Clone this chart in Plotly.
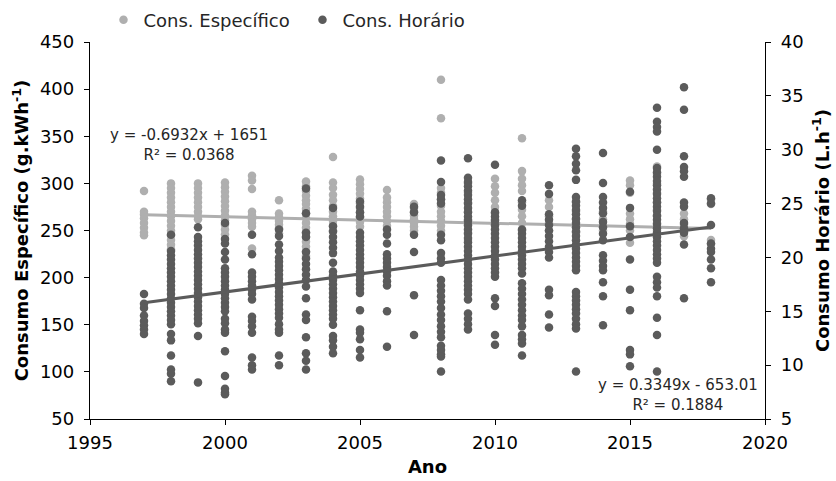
import plotly.graph_objects as go

# Years of the survey
anos = [1997, 1998, 1999, 2000, 2001, 2002, 2003, 2004, 2005, 2006, 2007,
        2008, 2009, 2010, 2011, 2012, 2013, 2014, 2015, 2016, 2017, 2018]

# Specific consumption (g.kWh-1), one list per year
cons_especifico = [
    [292, 270, 267, 263, 258, 253, 248, 245],
    [300, 295, 290, 285, 280, 275, 270, 265, 260, 255, 250, 245, 240, 235, 230],
    [300, 295, 290, 285, 280, 275, 270, 265, 262],
    [301, 296, 291, 286, 281, 276, 271, 266, 261, 256, 251, 246],
    [308, 303, 294, 270, 266, 262, 258, 254, 231],
    [282, 268, 264, 260, 256, 252, 247],
    [302, 297, 292, 287, 282, 278, 273, 268, 263, 258, 253, 248, 243, 238, 233, 228, 223],
    [328, 301, 295, 288, 282, 276, 270, 265, 260, 255, 250],
    [304, 299, 294, 289, 284, 279, 274, 269, 264, 259, 254],
    [293, 285, 280, 275, 270, 265, 260, 255],
    [278, 274, 270, 266, 262, 258, 254, 250],
    [410, 369, 295, 290, 283, 276, 270, 265, 260, 255, 250],
    [300, 290, 280, 270, 262, 255, 248, 240],
    [305, 297, 290, 282, 275, 268, 262, 255],
    [348, 313, 305, 298, 292, 280, 272, 265, 258, 250],
    [282, 275, 265, 258, 250],
    [280, 270, 262, 255, 248],
    [270, 262, 255, 250],
    [303, 298, 290, 268, 262, 257, 250, 243, 237],
    [318, 310, 300, 290, 280, 272, 265, 258, 250, 243],
    [268, 262, 256, 250, 244],
    [283, 278, 240, 236],
]

# Hourly consumption (L.h-1), one list per year
cons_horario = [
    [16.6, 15.7, 15.3, 14.6, 14.1, 13.7, 13.3, 12.9],
    [22.1, 20.6, 20.2, 19.8, 19.4, 19.0, 18.6, 18.2, 17.8, 17.4, 17.0, 16.6, 16.2,
     15.8, 15.4, 15.0, 14.6, 14.2, 13.8, 12.9, 12.3, 10.9, 9.6, 9.2, 8.5],
    [22.8, 21.9, 21.5, 21.1, 20.7, 20.3, 19.9, 19.5, 19.1, 18.7, 18.3, 17.9, 17.5,
     17.1, 16.7, 16.3, 15.9, 15.5, 15.1, 14.7, 14.3, 13.9, 12.7, 8.4],
    [23.2, 21.7, 21.3, 20.5, 19.8, 19.0, 18.6, 18.2, 17.8, 17.4, 17.0, 16.6, 16.2,
     15.8, 15.4, 15.0, 14.3, 13.9, 13.3, 13.0, 11.3, 9.0, 7.8, 7.45, 7.3],
    [22.1, 20.3, 18.6, 18.2, 17.8, 17.4, 17.0, 16.6, 16.1, 14.5, 14.1, 13.6, 13.0,
     10.7, 10.0, 9.6],
    [22.6, 22.0, 21.2, 20.6, 20.0, 19.6, 19.2, 18.8, 18.4, 18.0, 17.6, 17.2, 16.8,
     16.4, 16.0, 15.6, 15.2, 14.8, 14.4, 13.8, 13.3, 13.0, 10.9, 10.0],
    [26.4, 24.1, 22.3, 21.9, 20.5, 19.9, 19.4, 18.9, 18.4, 17.9, 17.3, 16.2, 14.7,
     14.2, 12.6, 11.1, 10.4, 9.6],
    [24.6, 22.9, 22.4, 21.9, 21.4, 20.9, 20.4, 19.5, 18.7, 18.3, 17.9, 17.5, 17.1,
     16.7, 16.3, 15.9, 15.5, 15.1, 14.7, 14.3, 13.75, 12.7, 12.3, 11.7, 11.1],
    [25.2, 24.7, 24.2, 23.8, 22.3, 21.9, 21.5, 21.1, 20.7, 20.3, 19.9, 19.5, 19.1,
     18.7, 18.3, 17.9, 17.5, 17.1, 16.7, 15.1, 13.3, 13.0, 12.4, 11.4, 10.7],
    [22.6, 22.1, 21.3, 20.3, 19.9, 19.5, 19.1, 18.7, 18.3, 17.8, 17.4, 15.0, 11.7],
    [24.7, 24.2, 22.1, 20.5, 16.5, 12.8],
    [29.0, 27.0, 25.8, 25.4, 25.0, 22.1, 21.6, 20.4, 19.9, 19.5, 17.9, 17.4, 16.9,
     16.4, 15.9, 15.3, 14.7, 14.2, 13.6, 13.1, 12.6, 11.8, 11.4, 11.0, 10.8, 9.4],
    [29.2, 27.4, 27.0, 26.6, 26.2, 25.8, 25.4, 25.0, 24.6, 24.2, 23.8, 23.4, 23.0,
     22.6, 22.2, 21.8, 21.4, 21.0, 20.6, 20.2, 19.8, 19.4, 19.0, 18.6, 18.2, 17.8,
     17.4, 17.0, 16.6, 16.1, 14.8, 14.3, 13.8, 13.3],
    [28.6, 24.2, 23.8, 23.4, 23.0, 22.6, 22.2, 21.8, 21.4, 21.0, 20.6, 20.2, 19.8,
     19.4, 19.0, 18.6, 18.2, 16.2, 15.5, 12.8, 11.9],
    [25.3, 24.8, 22.6, 22.2, 21.8, 21.4, 21.0, 20.6, 20.2, 19.8, 19.4, 19.0, 18.5,
     17.6, 17.1, 16.6, 16.1, 15.6, 15.1, 14.6, 14.2, 13.6, 12.8, 12.4, 12.0, 10.9],
    [26.7, 25.9, 24.0, 23.5, 23.0, 22.5, 22.0, 21.5, 21.0, 20.5, 20.0, 17.0, 16.5,
     14.7, 13.5],
    [30.1, 29.4, 28.7, 28.1, 27.2, 25.6, 25.2, 24.8, 24.4, 24.0, 23.6, 23.2, 22.8,
     22.4, 22.0, 21.6, 21.2, 20.8, 20.4, 20.0, 19.6, 19.2, 18.8, 16.8, 16.4, 16.0,
     15.6, 15.2, 14.8, 14.3, 13.8, 13.4, 9.4],
    [29.7, 26.9, 25.6, 25.1, 24.6, 24.1, 23.3, 22.8, 22.2, 21.6, 20.2, 19.7, 19.2,
     18.8, 17.7, 16.4, 13.7],
    [26.1, 24.6, 22.9, 21.9, 19.8, 17.0, 15.1, 11.4, 11.0, 9.9],
    [33.9, 32.6, 32.1, 31.7, 30.0, 28.3, 27.9, 27.5, 27.1, 26.7, 26.3, 25.9, 25.5,
     25.1, 24.7, 24.3, 23.9, 23.5, 23.1, 22.7, 22.3, 21.9, 21.5, 21.1, 20.7, 20.3,
     19.9, 19.5, 18.2, 17.7, 17.2, 16.4, 14.4, 12.8, 9.4],
    [35.8, 33.7, 29.4, 28.4, 28.0, 27.5, 25.1, 24.7, 23.2, 22.7, 22.3, 21.2, 16.2],
    [25.5, 25.0, 23.0, 21.3, 20.8, 20.5, 19.8, 19.0, 17.7],
]

# Linear trend coefficients (slope, intercept)
tend_especifico = (-0.6932, 1651)
tend_horario = (0.3349, -653.01)

cor_esp = "#AFAFAF"
cor_hor = "#5B5B5B"
fonte = "DejaVu Sans, Verdana, sans-serif"


def achatar(valores):
    xs, ys = [], []
    for ano, lista in zip(anos, valores):
        for v in lista:
            xs.append(ano)
            ys.append(v)
    return xs, ys


x_esp, y_esp = achatar(cons_especifico)
x_hor, y_hor = achatar(cons_horario)

fig = go.Figure()
fig.add_trace(go.Scatter(
    x=x_esp, y=y_esp, mode="markers", name="Cons. Específico",
    marker=dict(color=cor_esp, size=8.5), yaxis="y"))
fig.add_trace(go.Scatter(
    x=x_hor, y=y_hor, mode="markers", name="Cons. Horário",
    marker=dict(color=cor_hor, size=8.5), yaxis="y2"))

x_lin = [min(anos), max(anos)]
fig.add_trace(go.Scatter(
    x=x_lin, y=[tend_especifico[0] * a + tend_especifico[1] for a in x_lin],
    mode="lines", line=dict(color=cor_esp, width=3), showlegend=False,
    hoverinfo="skip", yaxis="y"))
fig.add_trace(go.Scatter(
    x=x_lin, y=[tend_horario[0] * a + tend_horario[1] for a in x_lin],
    mode="lines", line=dict(color=cor_hor, width=3), showlegend=False,
    hoverinfo="skip", yaxis="y2"))

eixo = dict(showline=True, linecolor="black", linewidth=1.3, ticks="outside",
            ticklen=5, tickcolor="black", tickwidth=1.3, showgrid=False,
            zeroline=False, tickfont=dict(family=fonte, size=18, color="black"))
titulo = dict(family=fonte, size=18, color="black")

fig.update_layout(
    width=836, height=481,
    margin=dict(l=90, r=71, t=42, b=62, autoexpand=False),
    paper_bgcolor="white", plot_bgcolor="white",
    font=dict(family=fonte, size=18, color="black"),
    xaxis=dict(range=[1995, 2020], dtick=5, tick0=1995, ticklabelstandoff=2,
               title=dict(text="<b>Ano</b>", font=titulo, standoff=8), **eixo),
    yaxis=dict(range=[50, 450], dtick=50, tick0=50, ticklabelstandoff=6,
               title=dict(text="<b>Consumo Específico (g.kWh<sup>-1</sup>)</b>",
                          font=titulo, standoff=6), **eixo),
    yaxis2=dict(range=[5, 40], dtick=5, tick0=5, overlaying="y", side="right",
                ticklabelstandoff=6,
                title=dict(text="<b>Consumo Horário (L.h<sup>-1</sup>)</b>",
                           font=titulo, standoff=13), **eixo),
    legend=dict(orientation="h", x=0.02, y=(419 - 20) / 377, xanchor="left",
                yanchor="middle", font=dict(family=fonte, size=18, color="#262626"),
                itemwidth=30, entrywidth=154, entrywidthmode="pixels",
                tracegroupgap=0, bgcolor="rgba(0,0,0,0)"),
    showlegend=True,
)

fig.add_annotation(
    text="y = -0.6932x + 1651<br>R² = 0.0368", xref="paper", yref="paper",
    x=(108 - 90) / 675, y=(419 - 124) / 377, xanchor="left", yanchor="top",
    showarrow=False, align="center",
    font=dict(family=fonte, size=15, color="#262626"))
fig.add_annotation(
    text="y = 0.3349x - 653.01<br>R² = 0.1884", xref="paper", yref="paper",
    x=(760 - 90) / 675, y=(419 - 374) / 377, xanchor="right", yanchor="top",
    showarrow=False, align="center",
    font=dict(family=fonte, size=15, color="#262626"))

fig.write_html("out.html")
